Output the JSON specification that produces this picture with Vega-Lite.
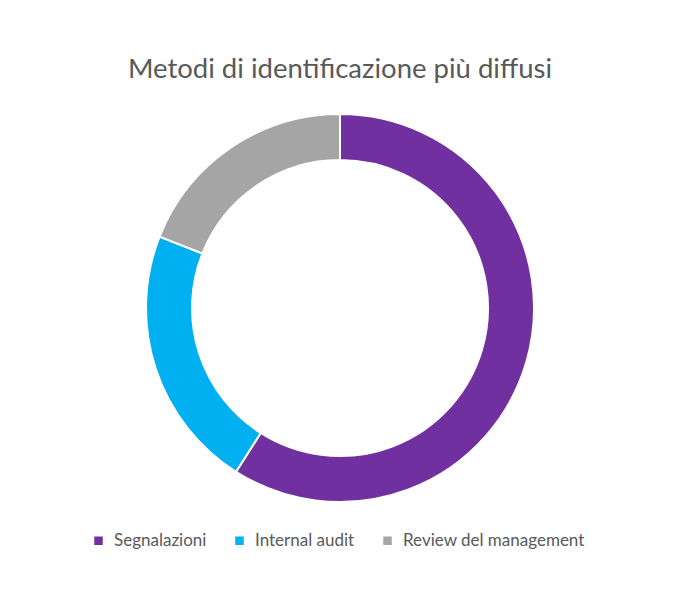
{
  "$schema": "https://vega.github.io/schema/vega-lite/v6.json",
  "width": 680,
  "height": 416,
  "autosize": "none",
  "padding": {"left": 0, "top": 100, "right": 10, "bottom": 84},
  "background": "white",
  "title": {
    "text": "Metodi di identificazione più diffusi",
    "anchor": "middle",
    "fontSize": 27.5,
    "font": "Lato",
    "fontWeight": "normal",
    "color": "#595959",
    "offset": 17
  },
  "data": {
    "values": [
      {"metodo": "Segnalazioni", "valore": 59},
      {"metodo": "Internal audit", "valore": 22},
      {"metodo": "Review del management", "valore": 19}
    ]
  },
  "mark": {"type": "arc", "radius": 194, "radius2": 148, "stroke": "white", "strokeWidth": 2},
  "encoding": {
    "theta": {"field": "valore", "type": "quantitative", "stack": true},
    "order": {"field": "valore", "sort": "descending"},
    "color": {
      "field": "metodo",
      "type": "nominal",
      "scale": {
        "domain": ["Segnalazioni", "Internal audit", "Review del management"],
        "range": ["#7030A0", "#00B0F0", "#A5A5A5"]
      },
      "legend": {
        "title": null,
        "orient": "none",
        "direction": "horizontal",
        "legendX": 90,
        "legendY": 432,
        "symbolType": "square",
        "symbolSize": 72,
        "symbolStrokeWidth": 0,
        "labelFont": "Lato",
        "labelFontSize": 17,
        "labelColor": "#595959",
        "labelOffset": 7,
        "labelLimit": 0,
        "columnPadding": 24
      }
    }
  },
  "config": {"view": {"stroke": null}}
}
